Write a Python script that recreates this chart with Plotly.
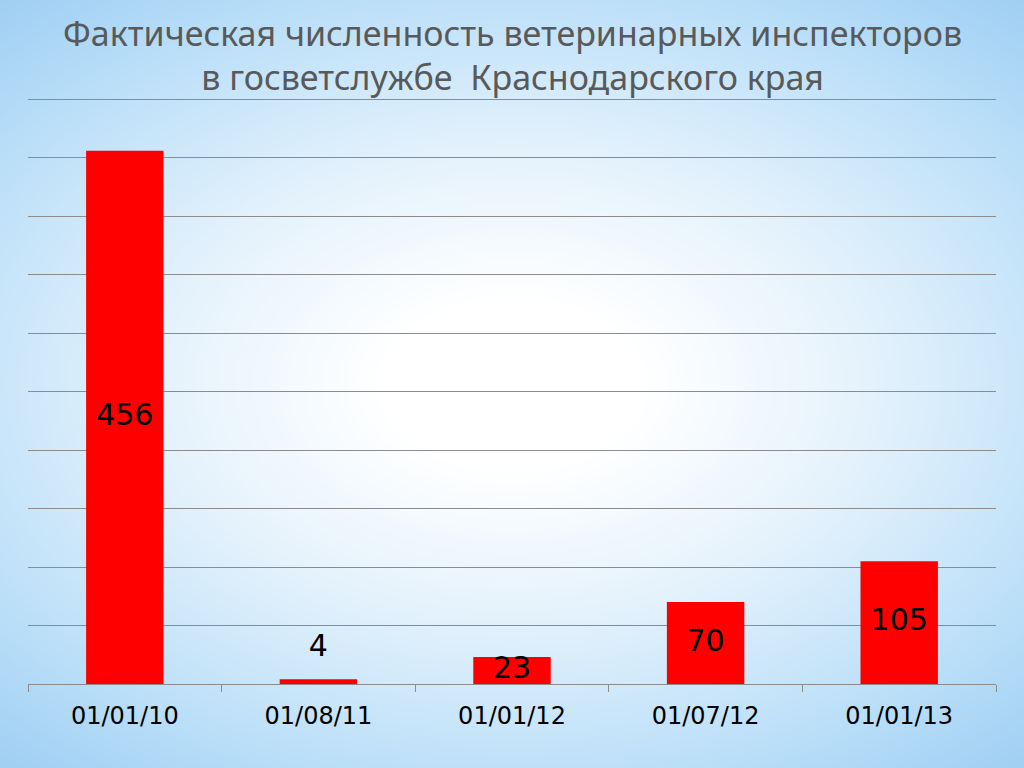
import numpy as np
import plotly.graph_objects as go

TITLE = 'Фактическая численность ветеринарных инспекторов<br>в госветслужбе  Краснодарского края'
dates = ['01/01/10', '01/08/11', '01/01/12', '01/07/12', '01/01/13']
inspectors = [456, 4, 23, 70, 105]

# label sits mid-bar; a sliver of a bar gets its label just above it
label_y = [v / 2 if v >= 10 else v + 26 for v in inspectors]

# soft blue vignette behind everything
gx = np.linspace(-1, 1, 101)
gy = np.linspace(-1, 1, 81)
X, Y = np.meshgrid(gx, gy)
bg = np.clip(np.sqrt((X * 1.0) ** 2 + (Y * 1.15) ** 2) - 0.25, 0, None)

fig = go.Figure()
fig.add_trace(go.Heatmap(
    x=gx, y=gy, z=bg, showscale=False, hoverinfo='skip',
    colorscale=[[0, '#ffffff'], [0.35, '#e4f2fc'], [0.75, '#b9def8'], [1, '#9fcff3']],
    zsmooth='best', xaxis='x', yaxis='y',
))
fig.add_trace(go.Bar(
    x=dates, y=inspectors, marker_color='#ff0000', marker_line_width=0,
    xaxis='x2', yaxis='y2', hoverinfo='skip',
))
fig.add_trace(go.Scatter(
    x=dates, y=label_y, mode='text', text=[str(v) for v in inspectors],
    textfont=dict(size=30, color='#000000', family='DejaVu Sans'),
    xaxis='x2', yaxis='y2', hoverinfo='skip',
))

fig.update_layout(
    width=1024, height=768,
    margin=dict(l=0, r=0, t=0, b=0),
    paper_bgcolor='white', plot_bgcolor='rgba(0,0,0,0)',
    showlegend=False, bargap=0.6,
    xaxis=dict(domain=[0, 1], visible=False, range=[-1, 1], fixedrange=True),
    yaxis=dict(domain=[0, 1], visible=False, range=[-1, 1], fixedrange=True),
    xaxis2=dict(
        domain=[28 / 1024, 996 / 1024], anchor='y2',
        showgrid=False, showline=True, linecolor='#8c8c8c', linewidth=1,
        ticks='outside', tickson='boundaries', ticklen=7, tickcolor='#8c8c8c',
        ticklabelstandoff=10,
        tickfont=dict(size=24, color='#000000', family='DejaVu Sans'),
    ),
    yaxis2=dict(
        domain=[1 - 684 / 768, 1 - 98 / 768], anchor='x2',
        range=[0, 501], dtick=50, showticklabels=False,
        showgrid=True, gridcolor='#8c8c8c', gridwidth=1,
        zeroline=False, showline=False,
    ),
    annotations=[dict(
        text=TITLE, x=0.5, y=1 - 55 / 768, xref='paper', yref='paper',
        xanchor='center', yanchor='middle',
        showarrow=False, align='center',
        font=dict(size=34, color='#595959', family='Noto Sans'),
    )],
)

fig.write_html('out.html', config={'displayModeBar': False},
               post_script="document.body.style.margin='0px';")
